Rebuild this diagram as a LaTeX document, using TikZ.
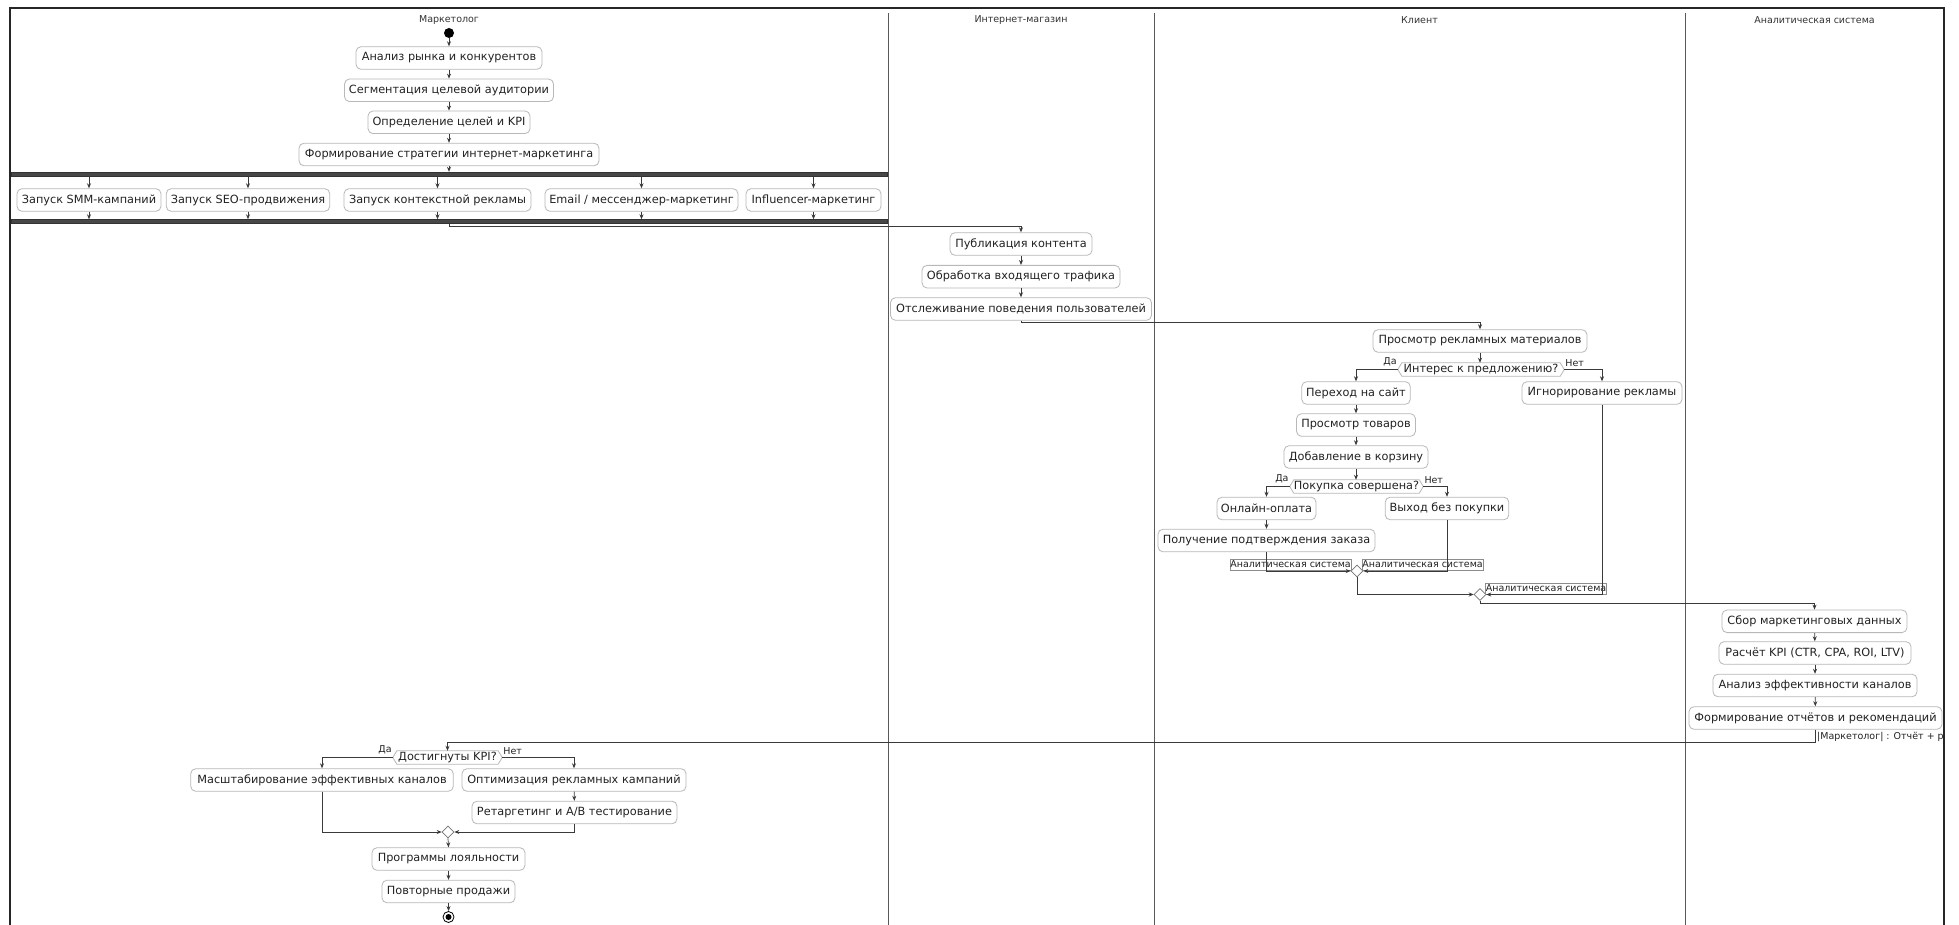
\documentclass[tikz,border=0pt]{standalone}
\usepackage{fontspec}
\setmainfont{DejaVu Sans}
\usetikzlibrary{arrows.meta,shapes.geometric}
\definecolor{ln}{HTML}{3A3A3A}
\definecolor{bx}{HTML}{B8B8B8}
\definecolor{tx}{HTML}{222222}
\tikzset{
  act/.style={draw=bx, line width=0.8pt, rounded corners=5pt, fill=white, text=tx,
    font=\fontsize{11.3}{13}\selectfont, minimum height=22.6pt, inner xsep=3pt, inner ysep=0pt},
  dec/.style={text=tx, font=\fontsize{11.3}{13}\selectfont, minimum height=13pt, inner sep=0pt},
  hexb/.style={draw=bx, line width=0.8pt},
  conn/.style={draw=ln, line width=0.7pt, -{Stealth[length=5pt,width=4pt]}},
  lbl/.style={text=tx, font=\fontsize{9.5}{11}\selectfont, inner sep=1pt},
  albl/.style={draw=black!45, line width=0.6pt, text=tx, font=\fontsize{9.5}{11}\selectfont,
    inner sep=0pt, minimum height=11pt},
  lanetitle/.style={text=black!80, font=\fontsize{9.5}{11}\selectfont, inner sep=0pt},
  bar/.style={fill=black!72, draw=black!80, line width=0.4pt, inner sep=0pt, minimum height=4pt},
  merge/.style={diamond, draw=black!55, line width=0.6pt, fill=white, inner sep=0pt,
    minimum width=12pt, minimum height=12pt},
}
\begin{document}
\begin{tikzpicture}[x=1pt,y=-1pt]
\useasboundingbox (0,0) rectangle (1959,925);
\fill[white] (0,0) rectangle (1959,925);
% frame and lanes
\draw[black!85, line width=1.3pt] (10,925) -- (10,8) -- (1944,8) -- (1944,925);
\draw[black!65, line width=0.9pt] (888,13) -- (888,925);
\draw[black!65, line width=0.9pt] (1154,13) -- (1154,925);
\draw[black!65, line width=0.9pt] (1685,13) -- (1685,925);
\node[lanetitle] (t1) at (449,20) {Маркетолог};
\node[lanetitle] (t2) at (1021,20) {Интернет-магазин};
\node[lanetitle] (t3) at (1419.5,20) {Клиент};
\node[lanetitle] (t4) at (1814.5,20) {Аналитическая система};

% marketer top
\node[circle, fill=black, inner sep=0pt, minimum size=10pt] (st) at (449,33) {};
\node[act, minimum width=186] (a1) at (449,58) {Анализ рынка и конкурентов};
\node[act, minimum width=209] (a2) at (449,90.3) {Сегментация целевой аудитории};
\node[act, minimum width=162] (a3) at (449,122.3) {Определение целей и KPI};
\node[act, minimum width=300] (a4) at (449,154.5) {Формирование стратегии интернет-маркетинга};
\draw[conn] (st) -- (a1);
\draw[conn] (a1) -- (a2);
\draw[conn] (a2) -- (a3);
\draw[conn] (a3) -- (a4);
\node[bar, minimum width=876] (fork) at (449,174) {};
\draw[conn] (a4) -- (fork);
\node[act, minimum width=144] (p1) at (89,200) {Запуск SMM-кампаний};
\node[act, minimum width=163.5] (p2) at (248,200) {Запуск SEO-продвижения};
\node[act, minimum width=187] (p3) at (437.5,200) {Запуск контекстной рекламы};
\node[act, minimum width=193] (p4) at (641.5,200) {Email / мессенджер-маркетинг};
\node[act, minimum width=135] (p5) at (813.5,200) {Influencer-маркетинг};
\node[bar, minimum width=876] (join) at (449,221.5) {};
\foreach \p in {p1,p2,p3,p4,p5}{
  \draw[conn] (fork.south -| \p.north) -- (\p.north);
  \draw[conn] (\p.south) -- (\p.south |- join.north);
}

% shop
\node[act, minimum width=142] (b1) at (1021,244) {Публикация контента};
\node[act, minimum width=198] (b2) at (1021,276.7) {Обработка входящего трафика};
\node[act, minimum width=261] (b3) at (1021,309) {Отслеживание поведения пользователей};
\coordinate (k1) at (449,226);
\draw[conn] (join.south) -- (k1) -| (b1.north);
\draw[conn] (b1) -- (b2);
\draw[conn] (b2) -- (b3);

% client
\node[act, minimum width=214] (c1) at (1480,341) {Просмотр рекламных материалов};
\coordinate (k2) at (1021,322.3);
\draw[conn] (b3.south) -- (k2) -| (c1.north);
\node[dec, minimum width=158] (d1) at (1481,369.5) {Интерес к предложению?};
\coordinate (d1l) at ([xshift=-4pt]d1.west);
\coordinate (d1r) at ([xshift=4pt]d1.east);
\draw[hexb] (d1l) -- (d1.north west) -- (d1.north east) -- (d1r) -- (d1.south east) -- (d1.south west) -- cycle;
\draw[conn] (c1.south) -- (c1.south |- d1.north);
\node[lbl, anchor=south east] (y1) at ([yshift=2pt]d1l) {Да};
\node[lbl, anchor=south west] (n1) at ([yshift=2pt]d1r) {Нет};
\node[act, minimum width=108.6] (c2) at (1356,393) {Переход на сайт};
\node[act, minimum width=160] (c3) at (1602,393) {Игнорирование рекламы};
\draw[conn] (d1l) -| (c2.north);
\draw[conn] (d1r) -| (c3.north);
\node[act, minimum width=119] (c4) at (1356,425) {Просмотр товаров};
\node[act, minimum width=144] (c5) at (1356,457) {Добавление в корзину};
\draw[conn] (c2) -- (c4);
\draw[conn] (c4) -- (c5);
\node[dec, minimum width=123] (d2) at (1356.5,486.5) {Покупка совершена?};
\coordinate (d2l) at ([xshift=-4pt]d2.west);
\coordinate (d2r) at ([xshift=4pt]d2.east);
\draw[hexb] (d2l) -- (d2.north west) -- (d2.north east) -- (d2r) -- (d2.south east) -- (d2.south west) -- cycle;
\draw[conn] (c5.south) -- (c5.south |- d2.north);
\node[lbl, anchor=south east] (y2) at ([yshift=2pt]d2l) {Да};
\node[lbl, anchor=south west] (n2) at ([yshift=2pt]d2r) {Нет};
\node[act, minimum width=99] (c6) at (1266.5,508.5) {Онлайн-оплата};
\node[act, minimum width=123.6] (c7) at (1447,508.5) {Выход без покупки};
\draw[conn] (d2l) -| (c6.north);
\draw[conn] (d2r) -| (c7.north);
\node[act, minimum width=217] (c8) at (1266.5,540.5) {Получение подтверждения заказа};
\draw[conn] (c6) -- (c8);
\node[merge] (m1) at (1357,571) {};
\node[merge] (m2) at (1480,594.5) {};
\node[albl, minimum width=121] (l1) at (1290.5,564.5) {Аналитическая система};
\node[albl, minimum width=121] (l2) at (1422.5,564.5) {Аналитическая система};
\node[albl, minimum width=120] (l3) at (1546,588.5) {Аналитическая система};
\draw[conn] (c8.south) |- (m1.west);
\draw[conn] (c7.south) |- (m1.east);
\draw[conn] (m1.south) |- (m2.west);
\draw[conn] (c3.south) |- (m2.east);

% analytics
\node[act, minimum width=185] (e1) at (1814.5,621.3) {Сбор маркетинговых данных};
\node[act, minimum width=192] (e2) at (1815,653) {Расчёт KPI (CTR, CPA, ROI, LTV)};
\node[act, minimum width=204] (e3) at (1815,685.5) {Анализ эффективности каналов};
\node[act, minimum width=253] (e4) at (1815.5,718) {Формирование отчётов и рекомендаций};
\coordinate (k3) at (1480,603);
\draw[conn] (m2.south) -- (k3) -| (e1.north);
\draw[conn] (e1) -- (e2);
\draw[conn] (e2) -- (e3);
\draw[conn] (e3) -- (e4);
\begin{scope}
\clip (10,725) rectangle (1943,750);
\node[lbl, anchor=west] (msg) at (1816,737) {|Маркетолог| : Отчёт + ре};
\end{scope}

% marketer bottom
\node[dec, minimum width=101] (d3) at (447.5,757.5) {Достигнуты KPI?};
\coordinate (d3l) at ([xshift=-4pt]d3.west);
\coordinate (d3r) at ([xshift=4pt]d3.east);
\draw[hexb] (d3l) -- (d3.north west) -- (d3.north east) -- (d3r) -- (d3.south east) -- (d3.south west) -- cycle;
\coordinate (k4) at (1815.5,742);
\draw[conn] (e4.south) -- (k4) -| (d3.north);
\node[lbl, anchor=south east] (y3) at ([yshift=2pt]d3l) {Да};
\node[lbl, anchor=south west] (n3) at ([yshift=2pt]d3r) {Нет};
\node[act, minimum width=262.5] (f1) at (322,780) {Масштабирование эффективных каналов};
\node[act, minimum width=224] (f2) at (574,780) {Оптимизация рекламных кампаний};
\draw[conn] (d3l) -| (f1.north);
\draw[conn] (d3r) -| (f2.north);
\node[act, minimum width=205] (f3) at (574.5,812.5) {Ретаргетинг и A/B тестирование};
\draw[conn] (f2) -- (f3);
\node[merge] (m3) at (448,832) {};
\draw[conn] (f1.south) |- (m3.west);
\draw[conn] (f3.south) |- (m3.east);
\node[act, minimum width=153] (f4) at (448.5,859) {Программы лояльности};
\node[act, minimum width=133] (f5) at (448.5,891.5) {Повторные продажи};
\draw[conn] (m3.south) -- (f4.north);
\draw[conn] (f4) -- (f5);
\node[circle, draw=black, line width=0.8pt, inner sep=0pt, minimum size=11pt] (en) at (448.5,917) {};
\fill[black] (en.center) circle (3pt);
\draw[conn] (f5.south) -- (en.north);
\end{tikzpicture}
\end{document}
